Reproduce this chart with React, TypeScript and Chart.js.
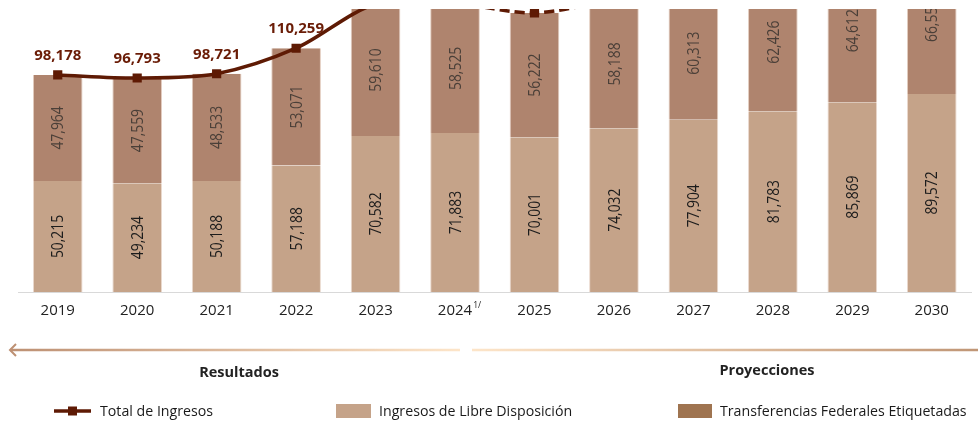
import React, { useEffect, useRef } from 'react';
import { Chart, registerables } from 'chart.js';

Chart.register(...registerables);

const years = ['2019', '2020', '2021', '2022', '2023', '2024', '2025', '2026', '2027', '2028', '2029', '2030'];
const libreDisposicion = [50215, 49234, 50188, 57188, 70582, 71883, 70001, 74032, 77904, 81783, 85869, 89572];
const transferencias = [47964, 47559, 48533, 53071, 59610, 58525, 56222, 58188, 60313, 62426, 64612, 66550];
const totalIngresos = [98178, 96793, 98721, 110259, 130192, 130408, 126223, 132220, 138217, 144209, 150481, 156122];
const yMax = 128000;
const footnoteIndex = 5;
const footnoteText = '1/';
const dashedFromIndex = 5;

const SANS = '"Open Sans", sans-serif';
const TICK_SIZE = 15;

const COLOR_LIBRE = '#c5a389';
const COLOR_TRANS = '#af846e';
const COLOR_TRANS_LEGEND = '#9f7450';
const COLOR_LINE = '#5e1a04';

const fmt = (v: number) => v.toLocaleString('en-US');

export default function App() {
  const ref = useRef<HTMLCanvasElement>(null);

  useEffect(() => {
    document.body.style.margin = '0';
    const canvas = ref.current;
    if (!canvas) return;

    const labelsPlugin = {
      id: 'customLabels',
      afterDatasetsDraw(chart: any) {
        const ctx = chart.ctx as CanvasRenderingContext2D;
        const area = chart.chartArea;
        ctx.save();
        ctx.beginPath();
        ctx.rect(0, area.top, chart.width, area.bottom - area.top);
        ctx.clip();
        [0, 1].forEach((di) => {
          const meta = chart.getDatasetMeta(di);
          const values = chart.data.datasets[di].data as number[];
          meta.data.forEach((bar: any, i: number) => {
            const p = bar.getProps(['x', 'y', 'base'], true);
            const cy = (p.y + p.base) / 2;
            ctx.save();
            ctx.translate(p.x, cy);
            ctx.rotate(-Math.PI / 2);
            ctx.scale(0.84, 1);
            ctx.font = `16.5px ${SANS}`;
            ctx.fillStyle = di === 0 ? '#1c1c1c' : '#4a3f38';
            ctx.textAlign = 'center';
            ctx.textBaseline = 'middle';
            ctx.fillText(fmt(values[i]), 0, 1);
            ctx.restore();
          });
        });
        const lm = chart.getDatasetMeta(2);
        ctx.font = `bold 15px ${SANS}`;
        ctx.fillStyle = '#6a1c06';
        ctx.textAlign = 'center';
        ctx.textBaseline = 'middle';
        lm.data.forEach((pt: any, i: number) => {
          ctx.fillText(fmt(totalIngresos[i]), pt.x, pt.y - 19);
        });
        ctx.restore();
      },
      afterDraw(chart: any) {
        const ctx = chart.ctx as CanvasRenderingContext2D;
        const xs = chart.scales.x;
        ctx.save();
        // footnote superscript
        const px = xs.getPixelForValue(footnoteIndex);
        ctx.font = `${TICK_SIZE}px ${SANS}`;
        const w = ctx.measureText(years[footnoteIndex]).width;
        ctx.font = `8.5px ${SANS}`;
        ctx.fillStyle = '#222';
        ctx.textAlign = 'left';
        ctx.textBaseline = 'middle';
        ctx.fillText(footnoteText, px + w / 2 + 1, 306);

        // arrows
        const ay = 350;
        const g1 = ctx.createLinearGradient(10, 0, 460, 0);
        g1.addColorStop(0, '#bd9073');
        g1.addColorStop(1, '#fde5c9');
        ctx.strokeStyle = g1;
        ctx.lineWidth = 2.5;
        ctx.beginPath();
        ctx.moveTo(10, ay);
        ctx.lineTo(460, ay);
        ctx.stroke();
        ctx.strokeStyle = '#bd9073';
        ctx.lineWidth = 2;
        ctx.beginPath();
        ctx.moveTo(16, ay - 6);
        ctx.lineTo(10, ay);
        ctx.lineTo(16, ay + 6);
        ctx.stroke();
        const g2 = ctx.createLinearGradient(472, 0, 978, 0);
        g2.addColorStop(0, '#fde5c9');
        g2.addColorStop(1, '#c09676');
        ctx.strokeStyle = g2;
        ctx.lineWidth = 2.5;
        ctx.beginPath();
        ctx.moveTo(472, ay);
        ctx.lineTo(978, ay);
        ctx.stroke();

        // section titles
        ctx.font = `bold 14.5px ${SANS}`;
        ctx.fillStyle = '#222';
        ctx.textAlign = 'center';
        ctx.textBaseline = 'middle';
        ctx.fillText('Resultados', 239, 373);
        ctx.fillText('Proyecciones', 767, 371);

        // legend
        const ly = 411;
        ctx.strokeStyle = COLOR_LINE;
        ctx.lineWidth = 3.5;
        ctx.beginPath();
        ctx.moveTo(54, ly);
        ctx.lineTo(91, ly);
        ctx.stroke();
        ctx.fillStyle = COLOR_LINE;
        ctx.fillRect(68, ly - 4.5, 9, 9);
        ctx.fillStyle = COLOR_LIBRE;
        ctx.fillRect(336, 404, 35, 14);
        ctx.fillStyle = COLOR_TRANS_LEGEND;
        ctx.fillRect(678, 404, 34, 14);
        ctx.font = `14.2px ${SANS}`;
        ctx.fillStyle = '#1a1a1a';
        ctx.textAlign = 'left';
        ctx.fillText('Total de Ingresos', 100, ly + 1);
        ctx.fillText('Ingresos de Libre Disposición', 379, ly + 1);
        ctx.fillText('Transferencias Federales Etiquetadas', 720, ly + 1);
        ctx.restore();
      },
    };

    const chart = new Chart(canvas, {
      type: 'bar',
      data: {
        labels: years,
        datasets: [
          {
            type: 'bar',
            label: 'Ingresos de Libre Disposición',
            data: libreDisposicion,
            backgroundColor: COLOR_LIBRE,
            borderColor: '#ead9ce',
            borderWidth: { left: 1, right: 1, top: 0, bottom: 0 } as any,
            borderSkipped: false,
            stack: 'bars',
            order: 2,
            categoryPercentage: 1,
            barPercentage: 0.625,
          },
          {
            type: 'bar',
            label: 'Transferencias Federales Etiquetadas',
            data: transferencias,
            backgroundColor: COLOR_TRANS,
            borderColor: '#e3cdc0',
            borderWidth: { left: 1, right: 1, top: 0, bottom: 0 } as any,
            borderSkipped: false,
            stack: 'bars',
            order: 2,
            categoryPercentage: 1,
            barPercentage: 0.625,
          },
          {
            type: 'line',
            label: 'Total de Ingresos',
            data: totalIngresos,
            stack: 'total',
            order: 0,
            borderColor: COLOR_LINE,
            backgroundColor: COLOR_LINE,
            borderWidth: 3.5,
            tension: 0.3,
            pointStyle: 'rect',
            pointRadius: 6.5,
            pointBorderWidth: 0,
            pointBackgroundColor: COLOR_LINE,
            clip: { left: 20, right: 20, top: 0, bottom: 20 } as any,
            segment: {
              borderDash: (c: any) => (c.p0DataIndex >= dashedFromIndex ? [10, 5] : undefined),
            },
          } as any,
        ],
      },
      options: {
        responsive: false,
        animation: false,
        events: [],
        layout: { padding: { top: 9, left: 18, right: 0, bottom: 0 } },
        plugins: { legend: { display: false }, tooltip: { enabled: false } },
        scales: {
          x: {
            stacked: true,
            grid: { display: false, drawTicks: false },
            border: { display: true, color: '#d9d9d9', width: 1 },
            ticks: {
              font: { family: SANS, size: TICK_SIZE },
              color: '#222',
              padding: 10,
              maxRotation: 0,
              autoSkip: false,
            },
            afterFit: (s: any) => {
              s.height = 131;
            },
          },
          y: { stacked: true, display: false, min: 0, max: yMax },
        },
      },
      plugins: [labelsPlugin],
    });
    return () => chart.destroy();
  }, []);

  return (
    <div style={{ position: 'absolute', left: 0, top: 0, width: 978, height: 423 }}>
      <canvas ref={ref} width={978} height={423} />
    </div>
  );
}
